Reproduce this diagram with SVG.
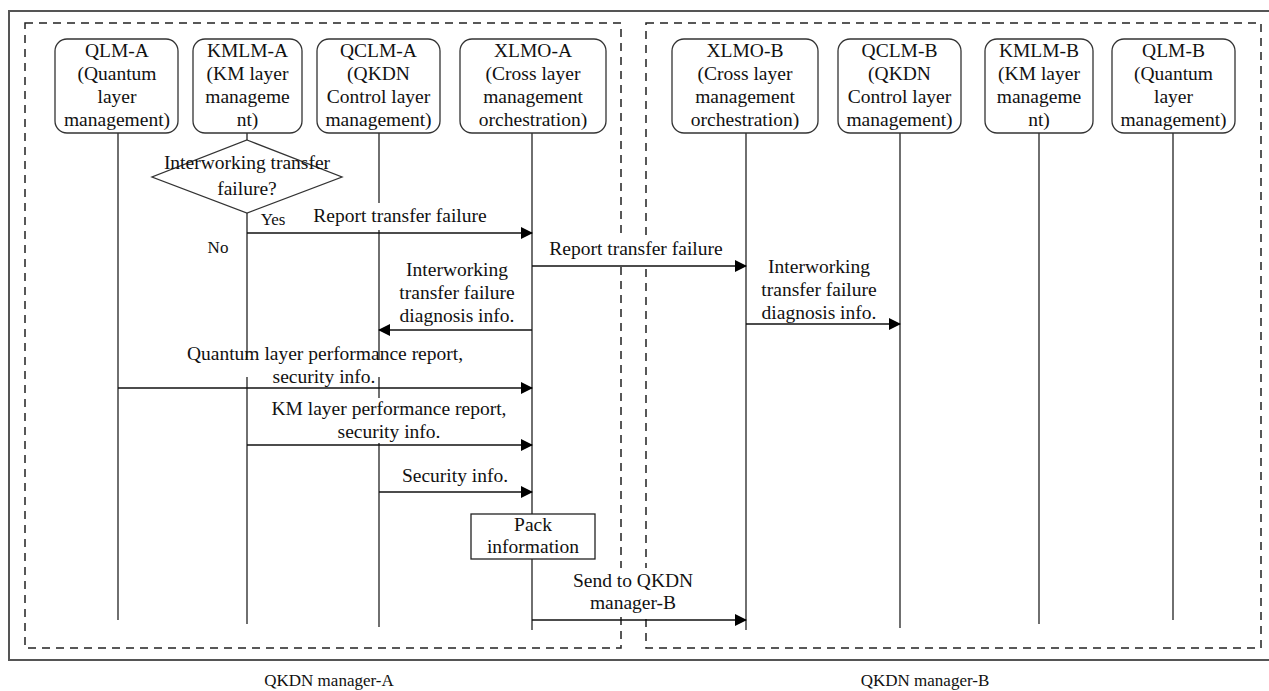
<svg xmlns="http://www.w3.org/2000/svg" width="1269" height="691" viewBox="0 0 1269 691" font-family="'Liberation Serif', 'DejaVu Serif', serif">
  <defs>
    <marker id="arrow" markerUnits="userSpaceOnUse" markerWidth="12" markerHeight="12" viewBox="0 0 12 12" refX="11" refY="6" orient="auto">
      <path d="M0,0 L12,6 L0,12 z" fill="#000"/>
    </marker>
    <style>
      text { font-family: 'Liberation Serif', 'DejaVu Serif', serif; font-size: 19.5px; fill: #111; text-anchor: middle; }
      .frame { fill: none; stroke: #555; stroke-width: 2; }
      .zone { fill: none; stroke: #222; stroke-width: 1.5; stroke-dasharray: 8 6; }
      .box { fill: #fff; stroke: #333; stroke-width: 1.3; }
      .life { stroke: #222; stroke-width: 1.3; fill: none; }
      .msg { stroke: #111; stroke-width: 1.3; fill: none; marker-end: url(#arrow); }
      .bg { fill: #fff; stroke: none; }
      .small { font-size: 17px; }
    </style>
  </defs>

  <rect width="1269" height="691" fill="#fff"/>

  <!-- outer frame and the two manager zones -->
  <rect class="frame" x="9" y="11" width="1270" height="649"/>
  <rect class="zone" x="25" y="23" width="596" height="625"/>
  <rect class="zone" x="646" y="23" width="615" height="625"/>

  <!-- lifelines -->
  <g id="lifelines">
    <line class="life" x1="118" y1="133" x2="118" y2="620"/>
    <line class="life" x1="247" y1="133" x2="247" y2="140"/>
    <line class="life" x1="247" y1="213" x2="247" y2="624"/>
    <line class="life" x1="379" y1="133" x2="379" y2="627"/>
    <line class="life" x1="532" y1="133" x2="532" y2="630"/>
    <line class="life" x1="746" y1="133" x2="746" y2="630"/>
    <line class="life" x1="900" y1="133" x2="900" y2="628"/>
    <line class="life" x1="1039" y1="133" x2="1039" y2="624"/>
    <line class="life" x1="1173" y1="133" x2="1173" y2="620"/>
  </g>

  <!-- participants, manager A -->
  <g id="qlm-a">
    <rect class="box" x="55" y="39" width="123" height="94" rx="12"/>
    <text x="117" y="57">QLM-A</text>
    <text x="117" y="80">(Quantum</text>
    <text x="117" y="103">layer</text>
    <text x="117" y="126">management)</text>
  </g>
  <g id="kmlm-a">
    <rect class="box" x="193" y="39" width="109" height="94" rx="12"/>
    <text x="247.5" y="57">KMLM-A</text>
    <text x="247.5" y="80">(KM layer</text>
    <text x="247.5" y="103">manageme</text>
    <text x="247.5" y="126">nt)</text>
  </g>
  <g id="qclm-a">
    <rect class="box" x="317" y="39" width="123" height="94" rx="12"/>
    <text x="378.5" y="57">QCLM-A</text>
    <text x="378.5" y="80">(QKDN</text>
    <text x="378.5" y="103">Control layer</text>
    <text x="378.5" y="126">management)</text>
  </g>
  <g id="xlmo-a">
    <rect class="box" x="460" y="39" width="146" height="94" rx="12"/>
    <text x="533" y="57">XLMO-A</text>
    <text x="533" y="80">(Cross layer</text>
    <text x="533" y="103">management</text>
    <text x="533" y="126">orchestration)</text>
  </g>

  <!-- participants, manager B -->
  <g id="xlmo-b">
    <rect class="box" x="672" y="39" width="146" height="94" rx="12"/>
    <text x="745" y="57">XLMO-B</text>
    <text x="745" y="80">(Cross layer</text>
    <text x="745" y="103">management</text>
    <text x="745" y="126">orchestration)</text>
  </g>
  <g id="qclm-b">
    <rect class="box" x="838" y="39" width="123" height="94" rx="12"/>
    <text x="899.5" y="57">QCLM-B</text>
    <text x="899.5" y="80">(QKDN</text>
    <text x="899.5" y="103">Control layer</text>
    <text x="899.5" y="126">management)</text>
  </g>
  <g id="kmlm-b">
    <rect class="box" x="985" y="39" width="108" height="94" rx="12"/>
    <text x="1039" y="57">KMLM-B</text>
    <text x="1039" y="80">(KM layer</text>
    <text x="1039" y="103">manageme</text>
    <text x="1039" y="126">nt)</text>
  </g>
  <g id="qlm-b">
    <rect class="box" x="1112" y="39" width="123" height="94" rx="12"/>
    <text x="1173.5" y="57">QLM-B</text>
    <text x="1173.5" y="80">(Quantum</text>
    <text x="1173.5" y="103">layer</text>
    <text x="1173.5" y="126">management)</text>
  </g>

  <!-- decision on the KMLM-A lifeline -->
  <g id="decision">
    <polygon points="247,140 342,177 247,213 152,177" fill="none" stroke="#333" stroke-width="1.3"/>
    <text x="247" y="169">Interworking transfer</text>
    <text x="247" y="195">failure?</text>
    <text class="small" x="273" y="225">Yes</text>
    <text class="small" x="218" y="253">No</text>
  </g>

  <!-- pack step on the XLMO-A lifeline -->
  <g id="pack">
    <rect x="471" y="514" width="124" height="45" fill="#fff" stroke="#222" stroke-width="1.3"/>
    <text x="533" y="531">Pack</text>
    <text x="533" y="553">information</text>
  </g>

  <!-- messages -->
  <g id="connectors">
    <line class="msg" x1="247" y1="233" x2="532" y2="233"/>
    <line class="msg" x1="532" y1="266" x2="746" y2="266"/>
    <line class="msg" x1="532" y1="330" x2="379" y2="330"/>
    <line class="msg" x1="746" y1="324" x2="900" y2="324"/>
    <line class="msg" x1="118" y1="388" x2="532" y2="388"/>
    <line class="msg" x1="247" y1="445" x2="532" y2="445"/>
    <line class="msg" x1="379" y1="492" x2="532" y2="492"/>
    <line class="msg" x1="532" y1="620" x2="746" y2="620"/>
  </g>

  <!-- message labels -->
  <g id="labels">
    <rect class="bg" x="313" y="203" width="174" height="27"/>
    <text x="400" y="222">Report transfer failure</text>

    <rect class="bg" x="549" y="236" width="174" height="28"/>
    <text x="636" y="255">Report transfer failure</text>

    <text x="457" y="276">Interworking</text>
    <text x="457" y="299">transfer failure</text>
    <text x="457" y="322">diagnosis info.</text>

    <text x="819" y="273">Interworking</text>
    <text x="819" y="296">transfer failure</text>
    <text x="819" y="319">diagnosis info.</text>

    <rect class="bg" x="186" y="360" width="284" height="17"/>
    <text x="325" y="360">Quantum layer performance report,</text>
    <text x="324" y="383">security info.</text>

    <rect class="bg" x="271" y="398" width="236" height="45"/>
    <text x="389" y="415">KM layer performance report,</text>
    <text x="389" y="438">security info.</text>

    <text x="455" y="482">Security info.</text>

    <rect class="bg" x="575" y="568" width="118" height="49"/>
    <text x="633" y="587">Send to QKDN</text>
    <text x="633" y="609">manager-B</text>
  </g>

  <!-- zone captions -->
  <text class="small" x="329" y="686">QKDN manager-A</text>
  <text class="small" x="925" y="686">QKDN manager-B</text>
</svg>
